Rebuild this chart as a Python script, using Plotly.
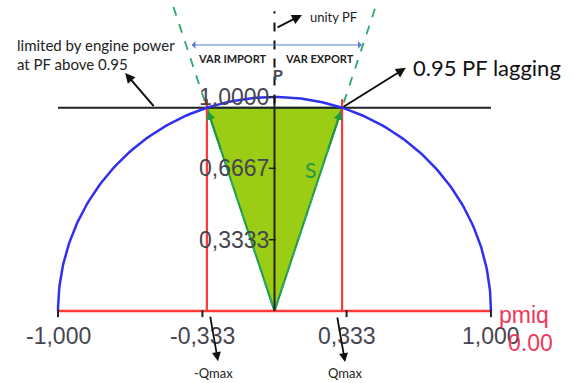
import numpy as np
import plotly.graph_objects as go

# Generator capability diagram (per-unit values)
s_rated = 1.0            # apparent power limit (radius of the capability circle)
pf_limit = 0.95          # power-factor limit
p_axis_ticks = [0.3333, 0.6667, 1.0]
p_axis_labels = ["0,3333", "0,6667", "1,0000"]
q_axis_ticks = [-1.0, -0.333, 0.333, 1.0]
q_axis_labels = ["-1,000", "-0,333", "0,333", "1,000"]
pmiq_labels = ["pmiq", "0.00"]

# derived geometry
q_at_pf = s_rated * np.sqrt(1 - pf_limit ** 2)
p_at_pf = s_rated * pf_limit
slope = q_at_pf / p_at_pf
theta = np.linspace(0, np.pi, 181)
circle_q = s_rated * np.cos(theta)
circle_p = s_rated * np.sin(theta)
ray_top = 1.42
ray_q = slope * ray_top

fig = go.Figure()

# shaded operating triangle
fig.add_trace(go.Scatter(
    x=[0, -q_at_pf, q_at_pf, 0], y=[0, p_at_pf, p_at_pf, 0],
    fill="toself", fillcolor="#9acd14", mode="lines",
    line=dict(color="#1e9a46", width=2), hoverinfo="skip"))

# PF-limit dashed rays
fig.add_trace(go.Scatter(x=[-ray_q, 0, ray_q], y=[ray_top, 0, ray_top], mode="lines",
                         line=dict(color="#2aaa6a", width=1.8, dash="dash"), hoverinfo="skip"))

# Q limits (red verticals) and Q axis
fig.add_trace(go.Scatter(x=[-q_at_pf, -q_at_pf, None, q_at_pf, q_at_pf],
                         y=[0, p_at_pf + 0.04, None, 0, p_at_pf + 0.04], mode="lines",
                         line=dict(color="#ff3838", width=2.2), hoverinfo="skip"))
fig.add_trace(go.Scatter(x=[-s_rated, s_rated], y=[0, 0], mode="lines",
                         line=dict(color="#ff3838", width=2.5), hoverinfo="skip"))

# engine power limit
fig.add_trace(go.Scatter(x=[-s_rated, s_rated], y=[p_at_pf, p_at_pf], mode="lines",
                         line=dict(color="#222222", width=2), hoverinfo="skip"))

# capability circle
fig.add_trace(go.Scatter(x=circle_q, y=circle_p, mode="lines",
                         line=dict(color="#3030f0", width=2.5), hoverinfo="skip"))

# P axis: solid part and dashed unity-PF part
fig.add_trace(go.Scatter(x=[0, 0], y=[0, 1.0], mode="lines",
                         line=dict(color="#222222", width=2), hoverinfo="skip"))
fig.add_trace(go.Scatter(x=[0, 0], y=[0.97, 1.40], mode="lines",
                         line=dict(color="#111111", width=2, dash="dash"), hoverinfo="skip"))

# tick marks
fig.add_trace(go.Scatter(x=q_axis_ticks, y=[-0.012] * len(q_axis_ticks), mode="markers",
                         marker=dict(symbol="line-ns", size=5, line=dict(color="#222", width=2)),
                         hoverinfo="skip"))
fig.add_trace(go.Scatter(x=[-0.01] * len(p_axis_ticks), y=p_axis_ticks, mode="markers",
                         marker=dict(symbol="line-ew", size=5, line=dict(color="#222", width=1.5)),
                         hoverinfo="skip"))

num_font = dict(family="Liberation Sans, Arial", size=23, color="#45454f")
ann = []
for q, t in zip(q_axis_ticks, q_axis_labels):
    ann.append(dict(x=q, y=-0.118, text=t, showarrow=False, font=num_font,
                    xanchor="center", yanchor="middle"))
for p, t in zip(p_axis_ticks, p_axis_labels):
    ann.append(dict(x=-0.018, y=p, text=t, showarrow=False, font=num_font,
                    xanchor="right", yanchor="middle"))

red_font = dict(family="Liberation Sans, Arial", size=23, color="#f0365a")
ann.append(dict(x=1.03, y=-0.02, text=pmiq_labels[0], showarrow=False, font=red_font,
                xanchor="left", yanchor="middle"))
ann.append(dict(x=1.07, y=-0.15, text=pmiq_labels[1], showarrow=False, font=red_font,
                xanchor="left", yanchor="middle"))

label_font = dict(family="Lato, Open Sans", size=15, color="#222222")


def arrow(x0, y0, x1, y1, color="#111111", width=2, head=2, size=1.0):
    return dict(x=x1, y=y1, ax=x0, ay=y0, xref="x", yref="y", axref="x", ayref="y",
                text="", showarrow=True, arrowhead=head, arrowsize=size,
                arrowwidth=width, arrowcolor=color)


# green arrowheads at the top of the triangle edges
edge_tail = 0.75
edge_tip = p_at_pf - 0.015
ann.append(arrow(-slope * edge_tail, edge_tail, -slope * edge_tip, edge_tip,
                 color="#1e9a46", width=2, size=0.9))
ann.append(arrow(slope * edge_tail, edge_tail, slope * edge_tip, edge_tip,
                 color="#1e9a46", width=2, size=0.9))

# unity PF
ann.append(arrow(0.007, 1.322, 0.127, 1.383))
ann.append(dict(x=0.155, y=1.374, text="unity PF", showarrow=False, xanchor="left",
                yanchor="middle", font=dict(family="Lato, Open Sans", size=13, color="#222")))

# VAR import/export span
ann.append(dict(x=0.404, y=1.243, ax=-0.39, ay=1.243, xref="x", yref="y", axref="x",
                ayref="y", text="", showarrow=True, arrowhead=1, startarrowhead=1,
                arrowside="end+start", arrowwidth=1, arrowcolor="#5a7fd0", arrowsize=1.3,
                startarrowsize=1.3))
bold_small = dict(family="Lato, Open Sans", size=11, color="#222")
ann.append(dict(x=-0.195, y=1.182, text="<b>VAR IMPORT</b>", showarrow=False, font=bold_small))
ann.append(dict(x=0.21, y=1.182, text="<b>VAR EXPORT</b>", showarrow=False, font=bold_small))
ann.append(dict(x=0.018, y=1.105, text="<b>P</b>", showarrow=False, xanchor="center",
                font=dict(family="Liberation Sans, Arial", size=15, color="#4b4b58")))

# 0.95 PF lagging
ann.append(arrow(q_at_pf, p_at_pf, 0.607, 1.136))
ann.append(dict(x=0.63, y=1.14, text="0.95 PF lagging", showarrow=False, xanchor="left",
                yanchor="middle", font=dict(family="Lato, Open Sans", size=22, color="#111")))

# engine power note
ann.append(arrow(-0.552, p_at_pf, -0.69, 1.112))
ann.append(dict(x=-1.199, y=1.244, text="limited by engine power", showarrow=False,
                xanchor="left", yanchor="middle", font=label_font))
ann.append(dict(x=-1.199, y=1.155, text="at PF above 0.95", showarrow=False,
                xanchor="left", yanchor="middle", font=label_font))

# apparent power label
ann.append(dict(x=0.165, y=0.66, text="S", showarrow=False,
                font=dict(family="Lato, Open Sans", size=21, color="#1e9a46")))

# Qmax arrows
ann.append(arrow(-0.298, -0.019, -0.261, -0.234, width=1.8))
ann.append(dict(x=-0.284, y=-0.29, text="-Qmax", showarrow=False,
                font=dict(family="Lato, Open Sans", size=13, color="#222")))
ann.append(arrow(0.289, -0.023, 0.326, -0.238, width=1.8))
ann.append(dict(x=0.326, y=-0.29, text="Qmax", showarrow=False,
                font=dict(family="Lato, Open Sans", size=13, color="#222")))

fig.update_layout(
    width=573, height=383, margin=dict(l=0, r=0, t=0, b=0),
    paper_bgcolor="white", plot_bgcolor="white", showlegend=False,
    xaxis=dict(range=[-1.268, 1.379], visible=False, fixedrange=True),
    yaxis=dict(range=[-0.336, 1.453], visible=False, fixedrange=True),
    annotations=ann,
)

fig.write_html("out.html")
